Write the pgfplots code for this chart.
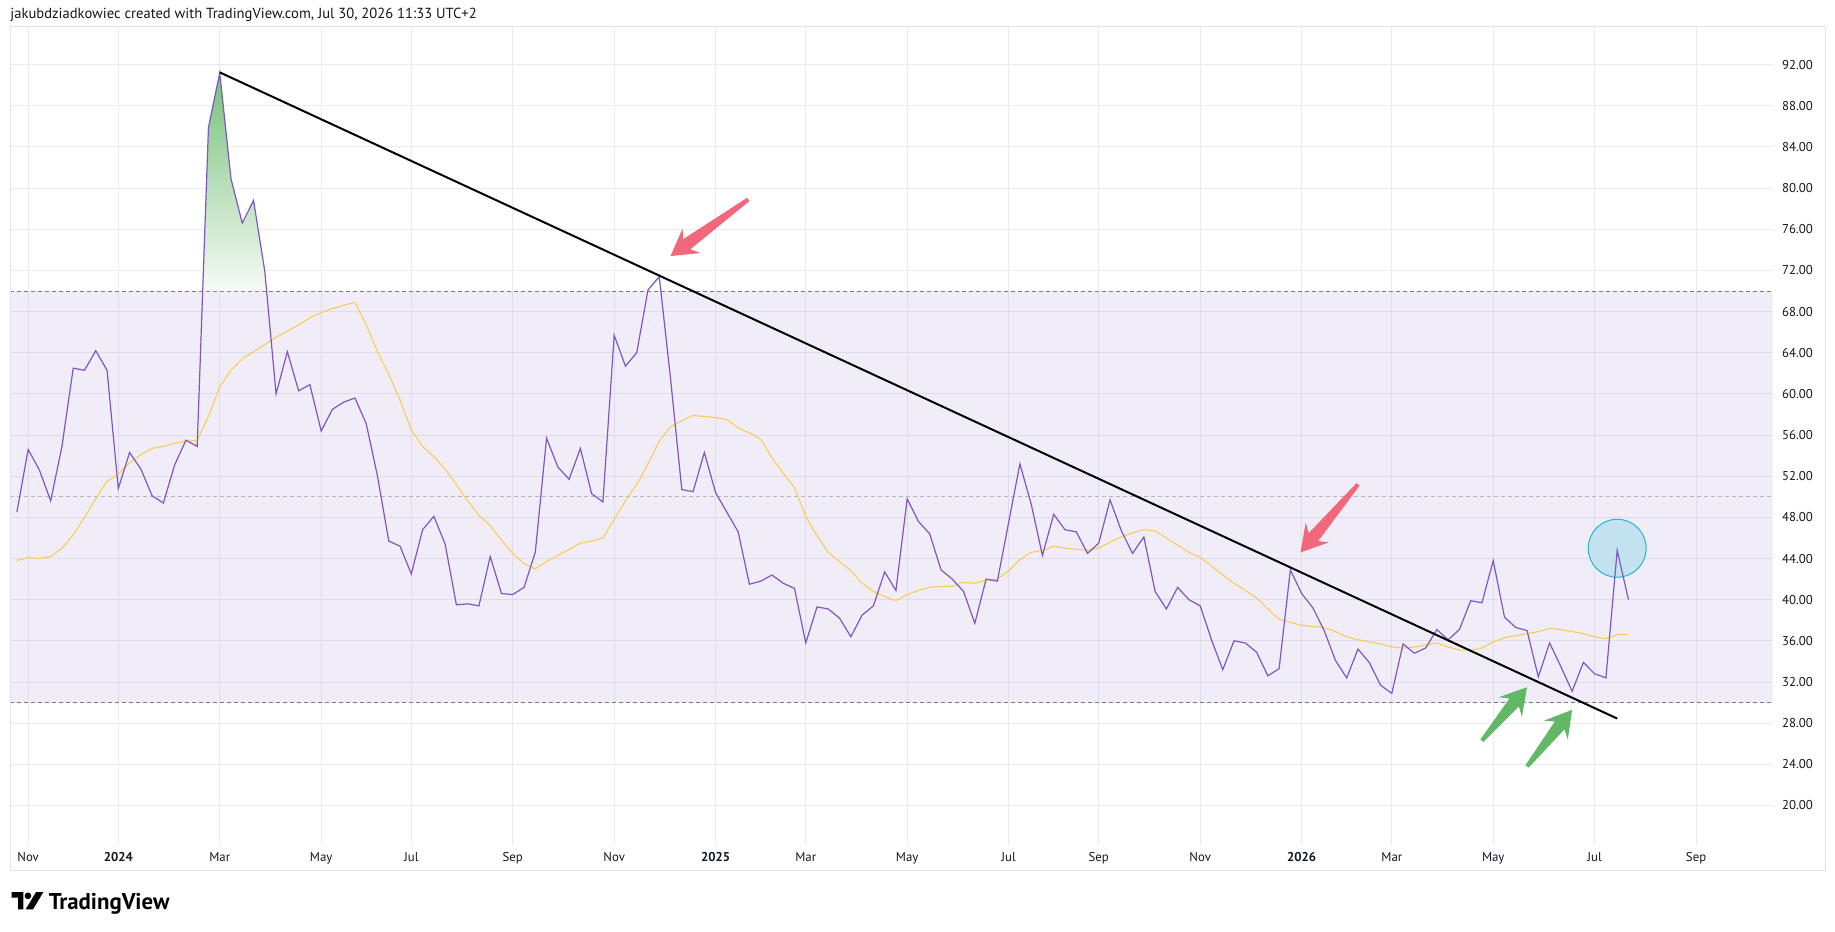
\documentclass[border=0pt]{standalone}
\usepackage{fontspec}
\setmainfont{PT Sans}
\usepackage{pgfplots}
\usepackage{pgfplotstable}
\pgfplotsset{compat=1.18}
\usetikzlibrary{calc}
\definecolor{tvtext}{RGB}{19,23,34}
\definecolor{rsi}{RGB}{126,87,194}
\definecolor{rsima}{RGB}{247,205,85}
\definecolor{gridc}{RGB}{234,234,240}
\definecolor{levc}{RGB}{120,123,134}
\definecolor{framec}{RGB}{224,227,235}
\definecolor{arrred}{RGB}{240,104,122}
\definecolor{arrgreen}{RGB}{98,184,102}
\definecolor{circfill}{RGB}{195,226,240}
\definecolor{circdraw}{RGB}{34,184,208}
\definecolor{obtop}{RGB}{118,193,121}
\definecolor{obbot}{RGB}{246,250,246}

\pgfplotstableread{
i v
-9 48.5
-8 54.6
-7 52.6
-6 49.6
-5 54.9
-4 62.5
-3 62.3
-2 64.2
-1 62.3
0 50.8
1 54.3
2 52.7
3 50.1
4 49.4
5 53.1
6 55.5
7 54.9
8 85.9
9 91.2
10 80.9
11 76.6
12 78.8
13 71.9
14 60.0
15 64.1
16 60.3
17 60.9
18 56.4
19 58.5
20 59.2
21 59.6
22 57.1
23 52.0
24 45.7
25 45.2
26 42.5
27 46.8
28 48.1
29 45.4
30 39.5
31 39.6
32 39.4
33 44.2
34 40.6
35 40.5
36 41.2
37 44.6
38 55.7
39 52.9
40 51.7
41 54.7
42 50.3
43 49.5
44 65.7
45 62.7
46 64.0
47 70.1
48 71.4
49 61.5
50 50.7
51 50.5
52 54.3
53 50.4
54 48.5
55 46.6
56 41.5
57 41.8
58 42.4
59 41.6
60 41.1
61 35.8
62 39.3
63 39.1
64 38.2
65 36.4
66 38.5
67 39.4
68 42.7
69 40.9
70 49.8
71 47.6
72 46.4
73 42.9
74 42.0
75 40.8
76 37.7
77 42.0
78 41.8
79 47.5
80 53.2
81 49.3
82 44.3
83 48.3
84 46.8
85 46.6
86 44.5
87 45.5
88 49.7
89 46.7
90 44.5
91 46.1
92 40.8
93 39.1
94 41.2
95 40.0
96 39.4
97 36.1
98 33.2
99 36.0
100 35.8
101 34.9
102 32.6
103 33.3
104 42.9
105 40.6
106 39.2
107 37.0
108 34.1
109 32.4
110 35.2
111 33.9
112 31.7
113 30.9
114 35.7
115 34.8
116 35.3
117 37.1
118 36.1
119 37.1
120 39.9
121 39.7
122 43.8
123 38.3
124 37.3
125 37.0
126 32.5
127 35.8
128 33.5
129 31.1
130 33.9
131 32.8
132 32.4
133 44.8
134 40.0
}\rsidata

\pgfplotstableread{
i v
-9 43.8
-8 44.1
-7 44.0
-6 44.2
-5 45.0
-4 46.3
-3 48.0
-2 49.8
-1 51.5
0 52.2
1 53.3
2 54.1
3 54.7
4 54.9
5 55.2
6 55.4
7 55.5
8 57.8
9 60.7
10 62.3
11 63.4
12 64.1
13 64.8
14 65.5
15 66.1
16 66.7
17 67.4
18 67.9
19 68.3
20 68.6
21 68.9
22 66.7
23 64.1
24 61.9
25 59.4
26 56.5
27 54.9
28 53.9
29 52.7
30 51.2
31 49.6
32 48.2
33 47.2
34 45.8
35 44.5
36 43.5
37 43.0
38 43.7
39 44.3
40 44.9
41 45.5
42 45.7
43 46.0
44 47.8
45 49.6
46 51.2
47 53.2
48 55.4
49 56.8
50 57.4
51 57.9
52 57.8
53 57.7
54 57.5
55 56.7
56 56.2
57 55.6
58 53.8
59 52.3
60 50.9
61 48.1
62 46.2
63 44.6
64 43.7
65 42.8
66 41.6
67 40.8
68 40.3
69 39.9
70 40.5
71 40.9
72 41.2
73 41.3
74 41.3
75 41.7
76 41.6
77 41.9
78 42.0
79 42.8
80 43.9
81 44.6
82 44.8
83 45.2
84 45.0
85 44.9
86 44.8
87 45.0
88 45.6
89 46.1
90 46.5
91 46.8
92 46.7
93 46.0
94 45.3
95 44.6
96 44.1
97 43.3
98 42.4
99 41.6
100 40.9
101 40.2
102 39.1
103 38.1
104 37.8
105 37.5
106 37.4
107 37.3
108 36.9
109 36.4
110 36.1
111 35.9
112 35.7
113 35.4
114 35.3
115 35.4
116 35.6
117 35.8
118 35.4
119 35.1
120 35.1
121 35.3
122 35.9
123 36.3
124 36.5
125 36.7
126 36.9
127 37.2
128 37.1
129 36.9
130 36.7
131 36.4
132 36.2
133 36.6
134 36.6
}\madata

% fat tapered arrow: #1 tail, #2 tip, #3 colour
\newcommand{\fatarrow}[3]{%
  \fill[#3] (#2) -- ($(#2)!13pt!(#1)!7.6pt!90:(#1)$) -- ($(#2)!10pt!(#1)!3.1pt!90:(#1)$)
   -- ($(#1)!1pt!-90:(#2)$) -- ($(#1)!1pt!90:(#2)$)
   -- ($(#2)!10pt!(#1)!3.1pt!-90:(#1)$) -- ($(#2)!13pt!(#1)!7.6pt!-90:(#1)$) -- cycle;}

\begin{document}
\begin{tikzpicture}[x=1pt,y=1pt]
\useasboundingbox (0,0) rectangle (917.5,465.5);
\fill[white] (0,0) rectangle (917.5,465.5);
\node[anchor=west, inner sep=0pt, font=\fontsize{7.3}{8}\selectfont, text=tvtext] at (5,458.3)
  {jakubdziadkowiec created with TradingView.com, Jul 30, 2026 11:33 UTC+2};
\begin{axis}[
  at={(5pt,43pt)}, anchor=south west,
  scale only axis, width=881.35pt, height=409.15pt,
  xmin=-9.61, xmax=146.8, ymin=16.16, ymax=95.69,
  axis line style={draw=none},
  major tick length=0pt,
  xtick={-8,0,9,18,26,35,44,53,61,70,79,87,96,105,113,122,131,140},
  xticklabels={Nov,\textbf{2024},Mar,May,Jul,Sep,Nov,\textbf{2025},Mar,May,Jul,Sep,Nov,\textbf{2026},Mar,May,Jul,Sep},
  ytick={20,24,...,92},
  yticklabel pos=right,
  scaled y ticks=false,
  tick label style={font=\fontsize{6.4}{7}\selectfont, text=tvtext},
  yticklabel style={anchor=west, inner sep=0pt, xshift=4.5pt,
    /pgf/number format/fixed, /pgf/number format/fixed zerofill,
    /pgf/number format/precision=2, /pgf/number format/assume math mode=true},
  xticklabel style={anchor=base, inner sep=0pt, yshift=-8.25pt},
  grid=major, grid style={gridc, line width=0.5pt},
]
\addplot[draw=none, fill=rsi, fill opacity=0.1] coordinates {(-9.61,30) (146.8,30) (146.8,70) (-9.61,70)} -- cycle;
\addplot[levc, line width=0.5pt, dash pattern=on 2pt off 1.5pt] coordinates {(-9.61,70) (146.8,70)};
\addplot[levc!55, line width=0.5pt, dash pattern=on 2pt off 1.5pt] coordinates {(-9.61,50) (146.8,50)};
\addplot[levc, line width=0.5pt, dash pattern=on 2pt off 1.5pt] coordinates {(-9.61,30) (146.8,30)};
\addplot[draw=none, top color=obtop, bottom color=obbot] coordinates {(7.487,70) (8,85.9) (9,91.2) (10,80.9) (11,76.6) (12,78.8) (13,71.9) (13.16,70)} -- cycle;
\draw[circdraw, fill=circfill, line width=0.5pt] (axis cs:133.0,45.0) circle[radius=14.5pt];
\addplot[rsima, line width=0.55pt] table[x=i, y=v] {\madata};
\addplot[rsi, line width=0.6pt] table[x=i, y=v] {\rsidata};
\addplot[black, line width=1pt] coordinates {(9,91.25) (133,28.45)};
\coordinate (ta) at (axis cs:55.9,78.9);
\coordinate (ha) at (axis cs:49.0,73.4);
\coordinate (tb) at (axis cs:110.0,51.2);
\coordinate (hb) at (axis cs:104.9,44.6);
\coordinate (tc) at (axis cs:121.0,26.3);
\coordinate (hc) at (axis cs:125.0,31.5);
\coordinate (td) at (axis cs:125.0,23.8);
\coordinate (hd) at (axis cs:129.0,29.3);
\fatarrow{ta}{ha}{arrred}
\fatarrow{tb}{hb}{arrred}
\fatarrow{tc}{hc}{arrgreen}
\fatarrow{td}{hd}{arrgreen}
\end{axis}
\draw[framec, line width=0.5pt] (5,30.15) rectangle (912.5,452.15);
% TradingView logo
\begin{scope}[shift={(5.75,10.8)}, scale=1.15]
\fill[black] (0,7.5) -- (5.15,7.5) -- (5.15,0) -- (2.85,0) -- (2.85,5.1) -- (0,5.1) -- cycle;
\fill[black] (7.15,5.9) circle[radius=1.45];
\fill[black] (6.15,0) -- (9.35,0) -- (13.85,7.5) -- (10.65,7.5) -- cycle;
\end{scope}
\node[anchor=base west, inner sep=0pt, font=\fontsize{11.4}{13}\selectfont\bfseries, text=black] at (24.2,10.8) {TradingView};
\end{tikzpicture}
\end{document}
